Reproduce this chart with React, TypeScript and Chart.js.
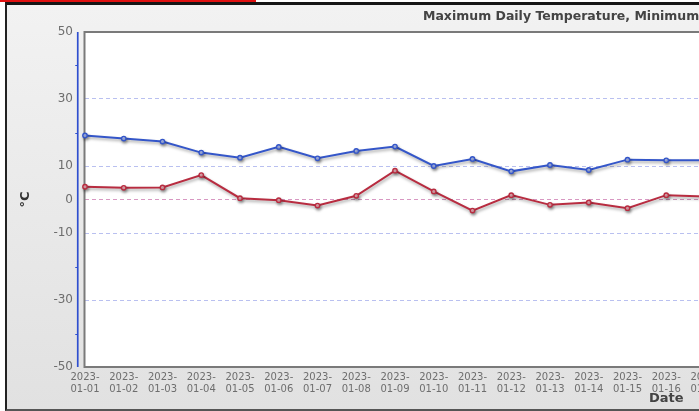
import React, { useEffect, useRef } from 'react';
import { Chart, registerables } from 'chart.js';

Chart.register(...registerables);

const categories = [
  '2023-01-01', '2023-01-02', '2023-01-03', '2023-01-04', '2023-01-05', '2023-01-06',
  '2023-01-07', '2023-01-08', '2023-01-09', '2023-01-10', '2023-01-11', '2023-01-12',
  '2023-01-13', '2023-01-14', '2023-01-15', '2023-01-16', '2023-01-17', '2023-01-18',
  '2023-01-19', '2023-01-20', '2023-01-21', '2023-01-22', '2023-01-23', '2023-01-24',
  '2023-01-25', '2023-01-26', '2023-01-27', '2023-01-28', '2023-01-29', '2023-01-30',
  '2023-01-31',
];
const maxTemps = [19.1, 18.2, 17.3, 14.0, 12.5, 15.7, 12.3, 14.5, 15.8, 10.0, 12.1, 8.4, 10.3, 8.8, 11.9, 11.7, 11.7];
const minTemps = [3.8, 3.5, 3.6, 7.3, 0.4, -0.2, -1.8, 1.1, 8.6, 2.4, -3.3, 1.3, -1.6, -0.9, -2.6, 1.3, 0.9];
const yTickValues = [-50, -40, -30, -20, -10, 0, 10, 20, 30, 40, 50];
const yTickLabels = [50, 30, 10, 0, -10, -30, -50];
const yMinorTicks = [40, 20, -20, -40];
const chartTitle = 'Maximum Daily Temperature, Minimum Daily Temperature';
const xTitle = 'Date';
const yTitle = '°C';

const FONT = "'DejaVu Sans', Verdana, sans-serif";

const framePlugin = {
  id: 'framePlugin',
  beforeDraw(chart: any) {
    const { ctx, chartArea: a } = chart;
    ctx.save();
    ctx.fillStyle = '#ffffff';
    ctx.fillRect(a.left, a.top, a.right - a.left, a.bottom - a.top);
    ctx.restore();
  },
  beforeDatasetsDraw(chart: any) {
    const { ctx, chartArea: a, scales } = chart;
    const y = scales.y;
    ctx.save();
    ctx.strokeStyle = '#7a7a7a';
    ctx.lineWidth = 2;
    ctx.beginPath();
    ctx.moveTo(a.right + 10, a.top);
    ctx.lineTo(a.left - 0.5, a.top);
    ctx.lineTo(a.left - 0.5, a.bottom);
    ctx.lineTo(a.right + 10, a.bottom);
    ctx.stroke();
    const ax = a.left - 7.25;
    ctx.strokeStyle = '#2f4fcf';
    ctx.lineWidth = 1.7;
    ctx.beginPath();
    ctx.moveTo(ax, y.getPixelForValue(50));
    ctx.lineTo(ax, y.getPixelForValue(-50));
    ctx.stroke();
    ctx.lineWidth = 1;
    for (const v of yMinorTicks) {
      const py = Math.round(y.getPixelForValue(v)) + 0.5;
      ctx.beginPath();
      ctx.moveTo(ax - 2.5, py);
      ctx.lineTo(ax, py);
      ctx.stroke();
    }
    ctx.restore();
  },
  beforeDatasetDraw(chart: any) {
    const ctx = chart.ctx;
    ctx.save();
    ctx.shadowColor = 'rgba(0,0,0,0.35)';
    ctx.shadowBlur = 3;
    ctx.shadowOffsetX = 1;
    ctx.shadowOffsetY = 2;
  },
  afterDatasetDraw(chart: any) {
    chart.ctx.restore();
  },
  afterDraw(chart: any) {
    const { ctx } = chart;
    ctx.save();
    ctx.font = `bold 12.5px ${FONT}`;
    ctx.fillStyle = '#444444';
    ctx.textAlign = 'left';
    ctx.textBaseline = 'middle';
    ctx.fillText(chartTitle, 416, 12);
    ctx.restore();
  },
};

export default function App() {
  const ref = useRef<HTMLCanvasElement | null>(null);

  useEffect(() => {
    if (!ref.current) return;
    const labels = categories.map((c) => [c.slice(0, 5), c.slice(5)]);
    const chart = new Chart(ref.current, {
      type: 'line',
      data: {
        labels,
        datasets: [
          {
            label: 'Maximum Daily Temperature',
            data: maxTemps,
            borderColor: '#3456c9',
            backgroundColor: '#aebdf0',
            pointBackgroundColor: '#aebdf0',
            pointBorderColor: '#3456c9',
            borderWidth: 2,
            pointRadius: 2.2,
            pointBorderWidth: 1.4,
            tension: 0,
            fill: false,
          },
          {
            label: 'Minimum Daily Temperature',
            data: minTemps,
            borderColor: '#b82c40',
            backgroundColor: '#eeb0b9',
            pointBackgroundColor: '#eeb0b9',
            pointBorderColor: '#b82c40',
            borderWidth: 2,
            pointRadius: 2.2,
            pointBorderWidth: 1.4,
            tension: 0,
            fill: false,
          },
        ],
      },
      options: {
        animation: false,
        responsive: false,
        maintainAspectRatio: false,
        layout: { padding: { top: 27, right: 16, bottom: 0, left: 0 } },
        plugins: {
          legend: { display: false },
          tooltip: { enabled: false },
          title: { display: false },
        },
        scales: {
          x: {
            type: 'category',
            offset: false,
            grid: { display: false, drawTicks: false },
            border: { display: false },
            ticks: {
              autoSkip: false,
              maxRotation: 0,
              minRotation: 0,
              padding: 5,
              color: '#6e6e6e',
              font: { family: FONT, size: 10, lineHeight: 1.15 },
            },
            title: {
              display: true,
              text: xTitle,
              color: '#444444',
              font: { family: FONT, size: 13, weight: 'bold' },
              padding: { top: 0, bottom: 3 },
            },
            afterFit(scale: any) {
              scale.height = 42;
            },
          },
          y: {
            min: -50,
            max: 50,
            afterBuildTicks(scale: any) {
              scale.ticks = yTickValues.map((v) => ({ value: v }));
            },
            grid: {
              drawTicks: false,
              lineWidth: 1,
              color: (ctx: any) => {
                const v = ctx.tick ? ctx.tick.value : null;
                if (v === 0) return '#d898c2';
                if (v === 10 || v === -10 || v === 30 || v === -30) return '#b9c0f0';
                return 'rgba(0,0,0,0)';
              },
            },
            border: { display: false, dash: [4, 3] },
            ticks: {
              padding: 12,
              color: '#6e6e6e',
              font: { family: FONT, size: 12 },
              callback: (value: any) => (yTickLabels.includes(Number(value)) ? String(value) : ''),
            },
            title: {
              display: true,
              text: yTitle,
              color: '#333333',
              font: { family: FONT, size: 13, weight: 'bold' },
              padding: { top: 11, bottom: 0 },
            },
            afterFit(scale: any) {
              scale.width = 78;
            },
          },
        },
      },
      plugins: [framePlugin],
    } as any);
    return () => chart.destroy();
  }, []);

  return (
    <div style={{ position: 'fixed', left: 0, top: 0, width: 699, height: 411, overflow: 'hidden', background: '#ffffff' }}>
      <div
        style={{
          position: 'absolute',
          left: 5,
          top: 2,
          width: 1400,
          height: 404,
          borderTop: '3px solid #151515',
          borderLeft: '2px solid #222222',
          borderBottom: '2px solid #555555',
          background: 'linear-gradient(#f2f2f2, #e1e1e1)',
        }}
      >
        <canvas ref={ref} width={1260} height={404} style={{ display: 'block', width: 1260, height: 404 }} />
      </div>
      <div style={{ position: 'absolute', left: 0, top: 0, width: 256, height: 2, background: '#e01010' }} />
    </div>
  );
}
